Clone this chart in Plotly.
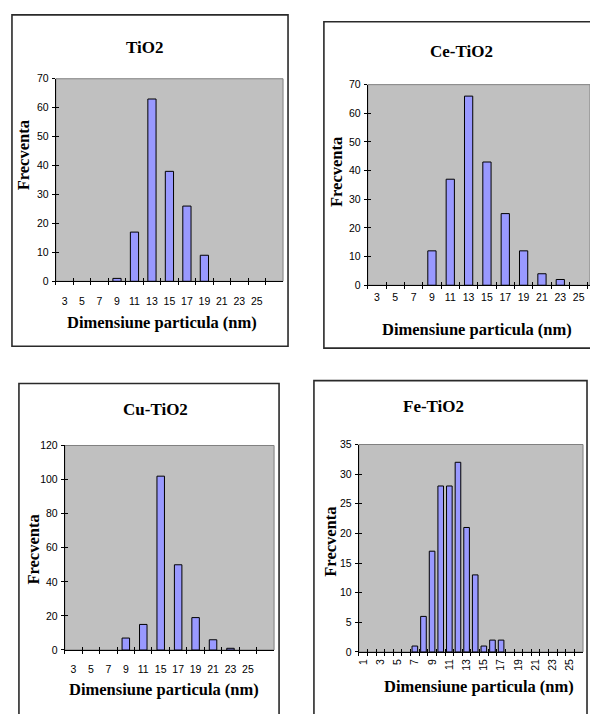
import plotly.graph_objects as go

W, H = 590, 714

# ---------------- data ----------------
tio2_cats = ["3", "5", "7", "9", "11", "13", "15", "17", "19", "21", "23", "25", " "]
tio2_vals = [0, 0, 0, 1, 17, 63, 38, 26, 9, 0, 0, 0, 0]

ce_cats = ["3", "5", "7", "9", "11", "13", "15", "17", "19", "21", "23", "25", " "]
ce_vals = [0, 0, 0, 12, 37, 66, 43, 25, 12, 4, 2, 0, 0]

cu_cats = ["3", "5", "7", "9", "11", "15", "17", "19", "21", "23", "25", " "]
cu_vals = [0, 0, 0, 7, 15, 102, 50, 19, 6, 1, 0, 0]

fe_cats = ["1", "2", "3", "4", "5", "6", "7", "8", "9", "10", "11", "12", "13",
           "14", "15", "16", "17", "18", "19", "20", "21", "22", "23", "24", "25", "26"]
fe_labels = ["1", "", "3", "", "5", "", "7", "", "9", "", "11", "", "13",
             "", "15", "", "17", "", "19", "", "21", "", "23", "", "25", ""]
fe_vals = [0, 0, 0, 0, 0, 0, 1, 6, 17, 28, 28, 32, 21, 13, 1, 2, 2,
           0, 0, 0, 0, 0, 0, 0, 0, 0]

titles = ["TiO2", "Ce-TiO2", "Cu-TiO2", "Fe-TiO2"]
y_title = "Frecventa"
x_title = "Dimensiune particula (nm)"

# ---------------- helpers ----------------
def px(x):
    return x / W

def py(y):
    return 1 - y / H

TICK_FONT = dict(family="Liberation Sans, Arial", size=10.5, color="#000000")
SERIF = "Liberation Serif, Times New Roman"
BAR_COLOR = "#9999FF"

fig = go.Figure()
annotations = []
shapes = []

panels = [
    dict(cats=tio2_cats, vals=tio2_vals, labels=None, ttl=titles[0],
         box=(54, 282, 74, 280), xr=[-0.5, 12.5], ymax=70, dt=10, bw=0.47, so=10, ang=0,
         tpos=(143, 42), ypos=(22, 152), xpos=(161, 322), outer=(10, 287, 9, 346)),
    dict(cats=ce_cats, vals=ce_vals, labels=None, ttl=titles[1],
         box=(367, 590, 80, 284), xr=[-0.5, 11.62], ymax=70, dt=10, bw=0.45, so=2, ang=0,
         tpos=(461, 46), ypos=(335, 169), xpos=(477, 329), outer=(323, 620, 16, 348)),
    dict(cats=cu_cats, vals=cu_vals, labels=None, ttl=titles[2],
         box=(63, 273, 447, 655), xr=[-0.5, 11.5], ymax=120, dt=20, bw=0.43, so=9, ang=0,
         tpos=(154, 410), ypos=(32, 553), xpos=(163, 695), outer=(17, 278, 384, 740)),
    dict(cats=fe_cats, vals=fe_vals, labels=fe_labels, ttl=titles[3],
         box=(358, 583, 446, 657), xr=[-0.5, 25.5], ymax=35, dt=5, bw=0.65, so=2, ang=-90,
         tpos=(433, 407), ypos=(330, 545), xpos=(479, 692), outer=(313, 587, 381, 740)),
]

layout_axes = {}
for i, p in enumerate(panels):
    n = i + 1
    m = i + 5
    xs = "" if n == 1 else str(n)
    ys = xs
    x0, x1, y0, y1 = p["box"]
    xdom = [px(x0), min(1.0, px(x1))]
    ydom = [py(y1), py(y0)]

    plot_vals = [v if v else None for v in p["vals"]]
    fig.add_trace(go.Bar(
        x=p["cats"], y=plot_vals, width=p["bw"],
        marker=dict(color=BAR_COLOR, line=dict(color="black", width=1)),
        xaxis="x" + xs, yaxis="y" + ys, showlegend=False, hoverinfo="x+y",
    ))
    # invisible trace registering categories on overlay axes (crossing ticks)
    fig.add_trace(go.Scatter(
        x=p["cats"], y=p["vals"], mode="markers", marker=dict(opacity=0),
        xaxis="x" + str(m), yaxis="y" + str(m), showlegend=False, hoverinfo="skip",
    ))

    xa = dict(type="category", categoryorder="array", categoryarray=p["cats"],
              range=p["xr"], domain=xdom, anchor="y" + ys,
              showline=True, linecolor="black", linewidth=1,
              ticks="outside", ticklen=3, tickwidth=1, tickcolor="black",
              tickson="boundaries", showgrid=False, zeroline=False,
              tickfont=TICK_FONT, ticklabelstandoff=p["so"], tickangle=p["ang"],
              fixedrange=True)
    if p["labels"] is not None:
        xa.update(tickmode="array", tickvals=p["cats"], ticktext=p["labels"])
    else:
        xa.update(tickmode="linear", tick0=0, dtick=1)

    ya = dict(range=[0, p["ymax"]], domain=ydom, anchor="x" + xs,
              tickmode="linear", tick0=0, dtick=p["dt"],
              showline=True, linecolor="black", linewidth=1,
              ticks="outside", ticklen=3, tickwidth=1, tickcolor="black",
              showgrid=False, zeroline=False, tickfont=TICK_FONT,
              ticklabelstandoff=1, fixedrange=True)

    xo = dict(type="category", categoryorder="array", categoryarray=p["cats"],
              range=p["xr"], overlaying="x" + xs, anchor="y" + ys, side="bottom",
              tickmode="linear", tick0=0, dtick=1,
              showline=False, ticks="inside", ticklen=3, tickwidth=1, tickcolor="black",
              tickson="boundaries", showticklabels=False, showgrid=False, zeroline=False,
              fixedrange=True)
    yo = dict(range=[0, p["ymax"]], overlaying="y" + ys, anchor="x" + xs, side="left",
              tickmode="linear", tick0=0, dtick=p["dt"],
              showline=False, ticks="inside", ticklen=3, tickwidth=1, tickcolor="black",
              showticklabels=False, showgrid=False, zeroline=False, fixedrange=True)

    layout_axes["xaxis" + xs] = xa
    layout_axes["yaxis" + ys] = ya
    layout_axes["xaxis" + str(m)] = xo
    layout_axes["yaxis" + str(m)] = yo

    # gray plot-area border
    shapes.append(dict(type="rect", xref="x" + xs + " domain", yref="y" + ys + " domain",
                       x0=0, x1=1, y0=0, y1=1, line=dict(color="#808080", width=1),
                       fillcolor="rgba(0,0,0,0)", layer="below"))
    # outer chart border
    ox0, ox1, oy0, oy1 = p["outer"]
    shapes.append(dict(type="rect", xref="paper", yref="paper",
                       x0=px(ox0), x1=px(ox1), y0=py(oy1), y1=py(oy0),
                       line=dict(color="#2a2a2a", width=1.6), fillcolor="rgba(0,0,0,0)",
                       layer="above"))

    tx, ty = p["tpos"]
    annotations.append(dict(text="<b>" + p["ttl"] + "</b>", x=px(tx), y=py(ty),
                            xref="paper", yref="paper", showarrow=False,
                            xanchor="center", yanchor="middle",
                            font=dict(family=SERIF, size=17, color="#000000")))
    yx, yy = p["ypos"]
    annotations.append(dict(text="<b>" + y_title + "</b>", x=px(yx), y=py(yy),
                            xref="paper", yref="paper", showarrow=False, textangle=-90,
                            xanchor="center", yanchor="middle",
                            font=dict(family=SERIF, size=16.5, color="#000000")))
    xx, xy = p["xpos"]
    annotations.append(dict(text="<b>" + x_title + "</b>", x=px(xx), y=py(xy),
                            xref="paper", yref="paper", showarrow=False,
                            xanchor="center", yanchor="middle",
                            font=dict(family=SERIF, size=16.5, color="#000000")))

fig.update_layout(
    width=W, height=H, margin=dict(l=0, r=0, t=0, b=0, pad=0),
    paper_bgcolor="white", plot_bgcolor="#C0C0C0",
    showlegend=False, bargap=0.5,
    annotations=annotations, shapes=shapes,
    **layout_axes,
)

fig.write_html("out.html", config={"displayModeBar": False})
